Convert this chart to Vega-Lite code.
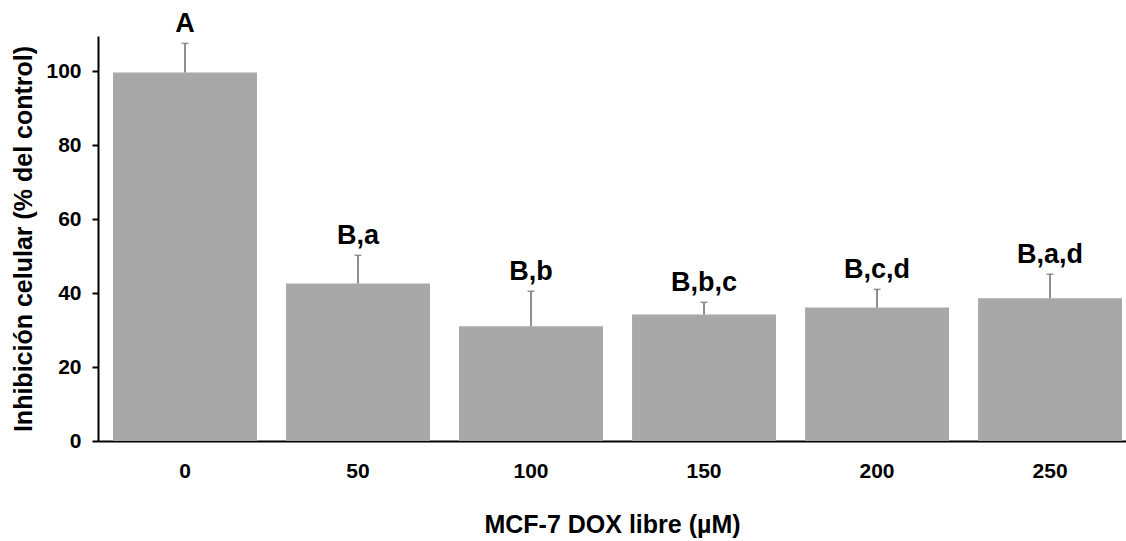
{
  "$schema": "https://vega.github.io/schema/vega-lite/v6.json",
  "autosize": {"type": "none"},
  "padding": {"left": 98, "top": 36, "right": 0, "bottom": 100},
  "width": 1028,
  "height": 405,
  "background": "white",
  "config": {
    "view": {"stroke": null},
    "font": "Liberation Sans"
  },
  "data": {
    "values": [
      {"dose": "0", "value": 99.6, "err": 107.5, "label": "A"},
      {"dose": "50", "value": 42.6, "err": 50.2, "label": "B,a"},
      {"dose": "100", "value": 31.0, "err": 40.5, "label": "B,b"},
      {"dose": "150", "value": 34.2, "err": 37.5, "label": "B,b,c"},
      {"dose": "200", "value": 36.1, "err": 41.0, "label": "B,c,d"},
      {"dose": "250", "value": 38.6, "err": 45.1, "label": "B,a,d"}
    ]
  },
  "encoding": {
    "x": {
      "field": "dose",
      "type": "nominal",
      "sort": null,
      "scale": {"paddingInner": 0.168, "paddingOuter": 0.055, "align": 0.79},
      "axis": {
        "title": "MCF-7 DOX libre (µM)",
        "titleFont": "Liberation Sans",
        "titleFontSize": 25,
        "titleFontWeight": "bold",
        "titleColor": "black",
        "titlePadding": 31,
        "labelAngle": 0,
        "labelFont": "Liberation Sans",
        "labelFontSize": 21,
        "labelFontWeight": "bold",
        "labelColor": "black",
        "labelPadding": 19,
        "ticks": false,
        "tickSize": 0,
        "domainColor": "black",
        "domainWidth": 2,
        "grid": false
      }
    }
  },
  "layer": [
    {
      "mark": {"type": "bar", "color": "#a8a8a8"},
      "encoding": {
        "y": {
          "field": "value",
          "type": "quantitative",
          "scale": {"domain": [0, 109.5], "nice": false},
          "axis": {
            "title": "Inhibición celular (% del control)",
            "titleFont": "Liberation Sans",
            "titleFontSize": 25,
            "titleFontWeight": "bold",
            "titleColor": "black",
            "titlePadding": 9,
            "values": [0, 20, 40, 60, 80, 100],
            "labelFont": "Liberation Sans",
            "labelFontSize": 21,
            "labelFontWeight": "bold",
            "labelColor": "black",
            "labelPadding": 11,
            "tickSize": 6,
            "tickWidth": 2,
            "tickColor": "black",
            "domainColor": "black",
            "domainWidth": 2,
            "grid": false
          }
        }
      }
    },
    {
      "mark": {"type": "rule", "color": "#6a6a6a", "strokeWidth": 1.5},
      "encoding": {
        "y": {"field": "value", "type": "quantitative"},
        "y2": {"field": "err"}
      }
    },
    {
      "mark": {"type": "tick", "orient": "horizontal", "color": "#6a6a6a", "size": 7, "thickness": 1.5},
      "encoding": {
        "y": {"field": "err", "type": "quantitative"}
      }
    },
    {
      "mark": {"type": "text", "baseline": "alphabetic", "dy": -11, "fontSize": 27, "fontWeight": "bold", "font": "Liberation Sans", "color": "black"},
      "encoding": {
        "y": {"field": "err", "type": "quantitative"},
        "text": {"field": "label"}
      }
    }
  ]
}
